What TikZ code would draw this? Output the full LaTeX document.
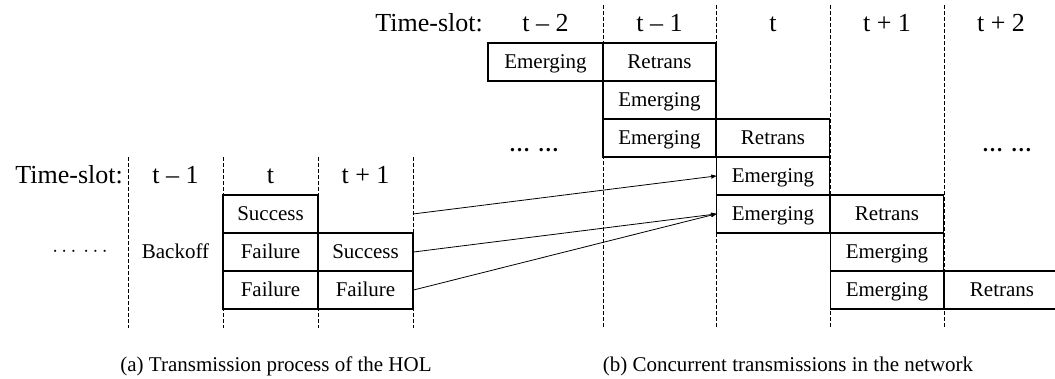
\documentclass[tikz,border=0pt]{standalone}
\usepackage{fontspec}
\setmainfont{Liberation Serif}
\usepackage{tikz}
\usetikzlibrary{arrows,positioning}

\begin{document}
\begin{tikzpicture}
    [
      x=1pt,y=-1pt,
      slot/.style={minimum width=113pt,minimum height=38pt,inner sep=0pt,text height=18pt,text depth=4pt,draw,line width=1.2pt,font=\fontsize{21}{24}\selectfont},
      plain/.style={inner sep=0pt,font=\fontsize{21}{24}\selectfont},
      head/.style={inner sep=0pt,text height=19pt,text depth=5pt,font=\fontsize{26}{30}\selectfont},
      sep/.style={dashed,dash pattern=on 4pt off 2pt,line width=0.8pt},
      post/.style={->,>=stealth',line width=0.8pt},
    ]

    \useasboundingbox (0,0) rectangle (1055,379);

    % slot borders
    \foreach \x in {128,223,318,413}
      \draw [sep] (\x,157) -- (\x,328);
    \foreach \x in {603,716,830,944}
      \draw [sep] (\x,5) -- (\x,328);

    % (a) the HOL packet
    \node (ts-a) [head,anchor=east] at (123,177) {Time-slot:};
    \node (a-t-1) [head] at (175.5,177) {t -- 1};
    \node (a-t) [head] at (270.5,177) {t};
    \node (a-t+1) [head] at (365.5,177) {t + 1};

    \node (a-dots) [plain] at (80,252) {$\cdots$\hspace{7pt}$\cdots$};
    \node (backoff) [slot,draw=none] at (175.5,252) {Backoff};

    \node (suc-1) [slot,minimum width=95pt] at (270.5,214) {Success};
    \node (fail-1) [slot,minimum width=95pt] at (270.5,252) {Failure};
    \node (suc-2) [slot,minimum width=95pt] at (365.5,252) {Success};
    \node (fail-2) [slot,minimum width=95pt] at (270.5,290) {Failure};
    \node (fail-3) [slot,minimum width=95pt] at (365.5,290) {Failure};
    \coordinate (suc-1-out) at (413,214);

    % (b) the network
    \node (ts-b) [head,anchor=east] at (483,25) {Time-slot:};
    \node (b-t-2) [head] at (545.5,25) {t -- 2};
    \node (b-t-1) [head] at (659.5,25) {t -- 1};
    \node (b-t) [head] at (773,25) {t};
    \node (b-t+1) [head] at (887,25) {t + 1};
    \node (b-t+2) [head] at (1001,25) {t + 2};

    \node (em-1) [slot,minimum width=115pt] at (545.5,62) {Emerging};
    \node (re-1) [slot] at (659.5,62) {Retrans};
    \node (em-2) [slot] at (659.5,100) {Emerging};
    \node (em-3) [slot] at (659.5,138) {Emerging};
    \node (re-3) [slot] at (773,138) {Retrans};
    \node (em-4) [slot] at (773,176) {Emerging};
    \node (em-5) [slot] at (773,214) {Emerging};
    \node (re-5) [slot] at (887,214) {Retrans};
    \node (em-6) [slot] at (887,252) {Emerging};
    \node (em-7) [slot] at (887,290) {Emerging};
    \node (re-7) [slot,minimum width=116pt] at (1002,290) {Retrans};

    \node (b-dots-l) [plain] at (534,150) {\textbf{\dots}\hspace{8pt}\textbf{\dots}};
    \node (b-dots-r) [plain] at (1007,150) {\textbf{\dots}\hspace{8pt}\textbf{\dots}};

    \path
    (suc-1-out) edge [post] (em-4.west)
    (suc-2.east) edge [post] (em-5.west)
    (fail-3.east) edge [post] (em-5.west)
    ;

    \node (cap-a) [plain,anchor=base] at (276,371) {(a) Transmission process of the HOL};
    \node (cap-b) [plain,anchor=base] at (788,371) {(b) Concurrent transmissions in the network};

  \end{tikzpicture}
\end{document}
